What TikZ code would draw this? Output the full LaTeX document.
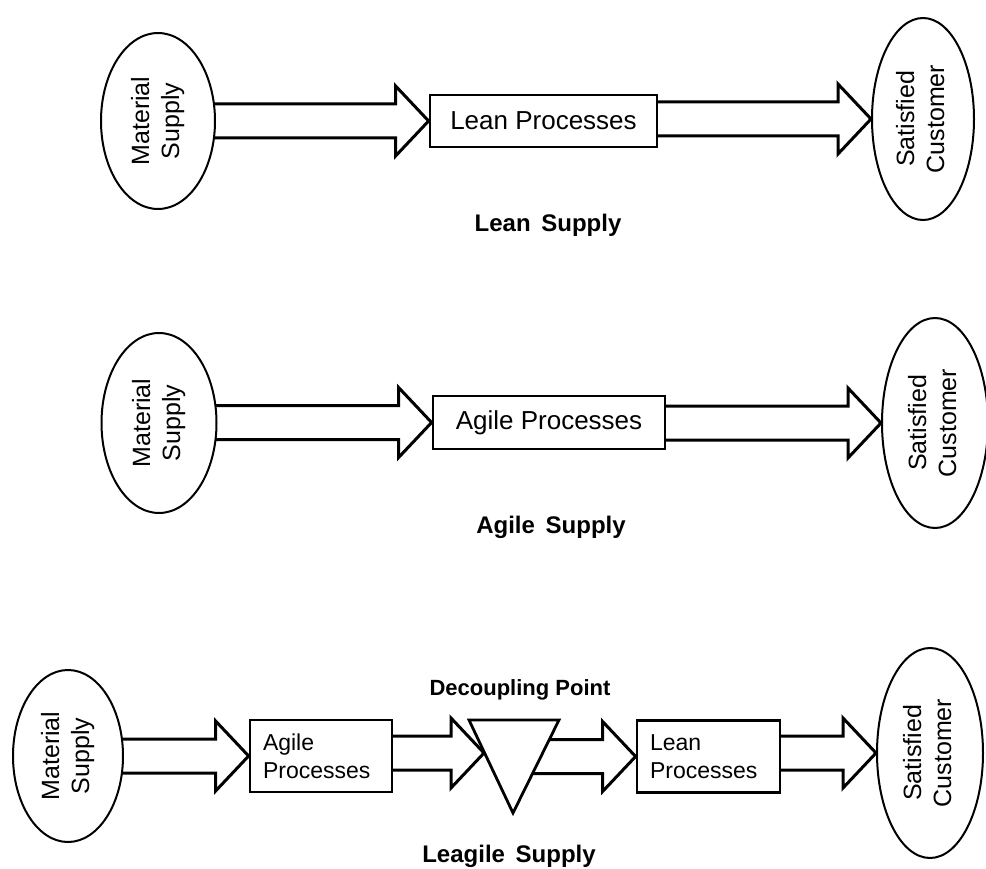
\documentclass[tikz,border=0pt]{standalone}
\usepackage{fontspec}
\usepackage{graphicx}
\setmainfont{Liberation Sans}
\usetikzlibrary{shapes.geometric,calc,backgrounds}
\tikzset{
  ell/.style={ellipse, draw, line width=2pt, fill=white, inner sep=0pt, font=\fontsize{25}{30}\selectfont},
  procbox/.style={rectangle, draw, line width=2.8pt, fill=white, inner sep=0pt, font=\fontsize{26}{30}\selectfont},
  procbox2/.style={rectangle, draw, line width=2.8pt, fill=white, inner xsep=13pt, inner ysep=0pt, align=left, font=\fontsize{23}{28}\selectfont},
  fatline/.style={line width=3pt, line join=miter},
  caption/.style={font=\bfseries\fontsize{24}{28}\selectfont},
  captionsmall/.style={font=\bfseries\fontsize{22}{26}\selectfont},
  dptri/.style={draw, line width=2.8pt, fill=white, line join=miter},
}
\newcommand{\fatarrow}[2]{%
  \draw[fatline] let \p1=(#1), \p2=(#2) in
    (\x1,\y2+17pt) -- (\x2-33pt,\y2+17pt) -- (\x2-33pt,\y2+35pt) -- (\x2,\y2)
    -- (\x2-33pt,\y2-35pt) -- (\x2-33pt,\y2-17pt) -- (\x1,\y2-17pt);}
\newcommand{\vtext}[2]{\rotatebox{90}{\begin{tabular}{@{}c@{}}#1\\#2\end{tabular}}}
\begin{document}
\begin{tikzpicture}[x=1pt,y=-1pt]
\useasboundingbox (0,0) rectangle (986,869);
% Row 1: Lean Supply
\node[ell, minimum width=114pt, minimum height=176pt] (ms1) at (158,121) {\vtext{Material}{Supply}};
\node[procbox, minimum width=227pt, minimum height=52pt] (lp1) at (543.5,121) {Lean Processes};
\node[ell, minimum width=102pt, minimum height=202pt] (sc1) at (923,119) {\vtext{Satisfied}{Customer}};
\node[caption] (cap1) at (548,225) {Lean\, Supply};
% Row 2: Agile Supply
\node[ell, minimum width=115pt, minimum height=180pt] (ms2) at (159,423) {\vtext{Material}{Supply}};
\node[procbox, minimum width=232pt, minimum height=53pt] (ap2) at (549,422.5) {Agile Processes};
\node[ell, minimum width=106pt, minimum height=210pt] (sc2) at (935,423) {\vtext{Satisfied}{Customer}};
\node[caption] (cap2) at (551,527) {Agile\, Supply};
% Row 3: Leagile Supply
\node[ell, minimum width=110pt, minimum height=172pt] (ms3) at (68,756) {\vtext{Material}{Supply}};
\node[procbox2, text width=116pt, minimum height=72pt] (ap3) at (321,756) {Agile\\Processes};
\draw[dptri] (469,720) coordinate (dptl) -- (559,720) coordinate (dptr) -- (513,813) coordinate (dpb) -- cycle;
\coordinate (dp) at (513,740);
\coordinate (dpL) at (484,753);
\node[procbox2, text width=117pt, minimum height=72pt] (lp3) at (708.5,756.5) {Lean\\Processes};
\node[ell, minimum width=106pt, minimum height=210pt] (sc3) at (930,753) {\vtext{Satisfied}{Customer}};
\node[captionsmall] (dplabel) at (520,690) {Decoupling Point};
\node[caption] (cap3) at (509,856) {Leagile\, Supply};
% Connectors (behind the nodes)
\begin{scope}[on background layer]
\fatarrow{ms1}{lp1.west}
\fatarrow{lp1}{sc1.west}
\fatarrow{ms2}{ap2.west}
\fatarrow{ap2}{sc2.west}
\fatarrow{ms3}{ap3.west}
\fatarrow{ap3}{dpL}
\fatarrow{dp}{lp3.west}
\fatarrow{lp3}{sc3.west}
\end{scope}
\end{tikzpicture}
\end{document}
